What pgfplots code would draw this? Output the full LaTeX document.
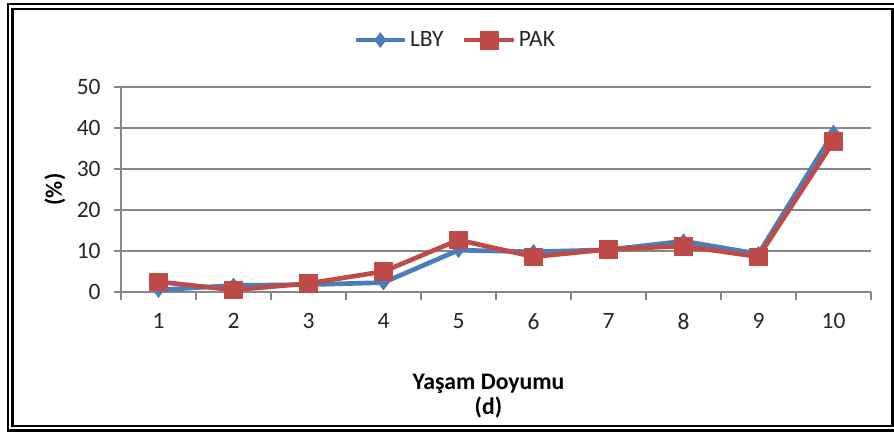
\documentclass[border=0pt]{standalone}
\usepackage{fontspec}
\setmainfont{Carlito}
\usepackage{pgfplots}
\pgfplotsset{compat=1.18}
\definecolor{lby}{RGB}{74,126,187}
\definecolor{pak}{RGB}{190,75,72}
\definecolor{gridc}{RGB}{134,134,134}
\begin{document}
\begin{tikzpicture}
\begin{scope}[x=0.75pt,y=-0.75pt]
\path[use as bounding box] (0,0) rectangle (894,433);
\fill[white] (0,0) rectangle (894,433);
\draw[line width=1.7pt,black] (898,3.8) -- (7.8,3.8) -- (7.8,430.5) -- (898,430.5);
\draw[line width=1.7pt,black] (12.5,8.7) rectangle (892.5,426);
\end{scope}
\begin{axis}[
  at={(90.75pt,-219pt)}, anchor=south west,
  width=562.5pt, height=153.75pt, scale only axis,
  xmin=0.5, xmax=10.5, ymin=0, ymax=50,
  axis lines*=left,
  axis line style={gridc, line width=1.1pt},
  ytick={0,10,...,50},
  xtick={1,...,10},
  minor xtick={0.5,1.5,...,10.5},
  tick align=outside,
  major tick length=5.25pt,
  minor tick length=6pt,
  major x tick style={draw=none},
  every tick/.style={gridc, line width=1.1pt},
  minor tick style={gridc, line width=1.1pt},
  ymajorgrids,
  grid style={gridc, line width=1.1pt},
  ticklabel style={font=\fontsize{17.6}{20}\selectfont, text=black!85},
  yticklabel style={xshift=-6.5pt},
  xticklabel style={yshift=-7.5pt},
  /pgf/number format/assume math mode=true,
  ylabel={(\%)},
  ylabel style={font=\bfseries\fontsize{17.6}{20}\selectfont, at={(axis description cs:-0.088,0.5)}, anchor=center, rotate=0},
  xlabel={Yaşam Doyumu\\(d)},
  xlabel style={font=\bfseries\fontsize{17.8}{19}\selectfont, align=center, at={(axis description cs:0.49,-0.507)}, anchor=center},
  legend columns=2,
  legend style={draw=none, fill=none, at={(axis description cs:0.446,1.229)}, anchor=center,
    font=\fontsize{17.6}{20}\selectfont, text=black!85,
    /tikz/every even column/.append style={column sep=12pt}},
  legend image code/.code={\draw[mark repeat=2,mark phase=2,#1] plot coordinates {(0pt,0pt) (18.5pt,0pt) (37pt,0pt)};},
]
\addplot[color=lby, line width=3.5pt, mark=diamond*, mark size=5.5pt, mark options={solid, line width=0.5pt, fill=lby}]
  coordinates {(1,0.5) (2,1.6) (3,1.8) (4,2.3) (5,10.2) (6,9.8) (7,10.3) (8,12.4) (9,9.3) (10,38.9)};
\addlegendentry{LBY}
\addplot[color=pak, line width=3.5pt, mark=square*, mark size=6.6pt, mark options={solid, line width=0.5pt, fill=pak}]
  coordinates {(1,2.5) (2,0.5) (3,2.1) (4,5.0) (5,12.7) (6,8.6) (7,10.4) (8,11.2) (9,8.6) (10,36.7)};
\addlegendentry{PAK}
\end{axis}
\end{tikzpicture}
\end{document}
